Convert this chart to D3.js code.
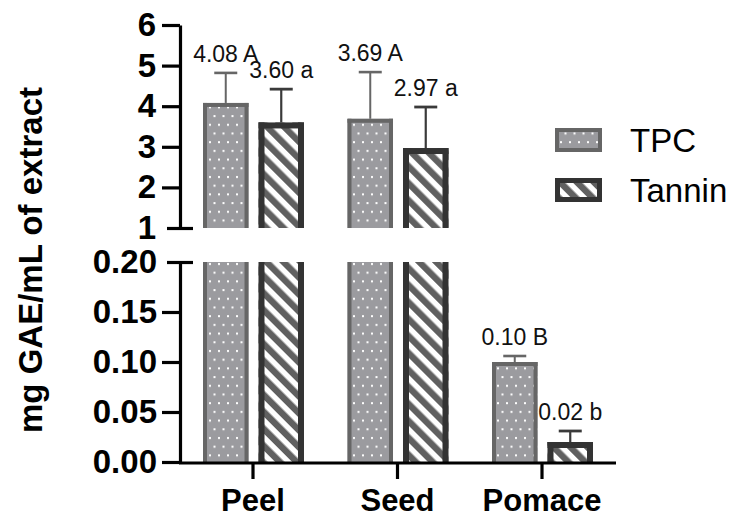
<!DOCTYPE html>
<html>
<head>
<meta charset="utf-8">
<script src="https://cdn.jsdelivr.net/npm/d3@7"></script>
<style>
  html, body { margin: 0; padding: 0; background: #fff; }
  svg { display: block; font-family: "Liberation Sans", Arial, sans-serif; }
</style>
</head>
<body>
<svg id="chart" width="732" height="518"></svg>
<script>
// Phenolic content per fraction (mean ± SD), with significance letters
const categories = ["Peel", "Seed", "Pomace"];
const series = ["TPC", "Tannin"];
const tpcMeans = [4.08, 3.69, 0.10];
const tpcSD = [0.74, 1.15, 0.006];
const tanninMeans = [3.60, 2.97, 0.02];
const tanninSD = [0.82, 1.01, 0.011];
const tpcLetters = ["A", "A", "B"];
const tanninLetters = ["a", "a", "b"];
const topTicks = [1, 2, 3, 4, 5, 6];
const bottomTicks = [0, 0.05, 0.10, 0.15, 0.20];

const svg = d3.select("#chart");

// Broken y axis: upper segment 1–6, lower segment 0–0.20
const yTop = d3.scaleLinear().domain([1, 6]).range([228, 25]);
const yBot = d3.scaleLinear().domain([0, 0.20]).range([462, 262]);
const x = d3.scaleBand().domain(categories).range([180.75, 614.25]).padding(0);
const xInner = d3.scaleBand().domain(series).range([0, 101]).paddingInner(0.18);

const style = {
  TPC: { fill: "url(#dots)", border: "#666666", bw: 4, err: "#666666", errW: 2 },
  Tannin: { fill: "url(#stripes)", border: "#333333", bw: 6, err: "#3a3a3a", errW: 2.2 }
};

// Fill patterns
const defs = svg.append("defs");
const dots = defs.append("pattern").attr("id", "dots")
  .attr("patternUnits", "userSpaceOnUse").attr("width", 9).attr("height", 17.4);
dots.append("rect").attr("width", 9).attr("height", 17.4).attr("fill", "#9b9b9f");
dots.append("rect").attr("x", 2).attr("y", 2).attr("width", 2).attr("height", 2).attr("fill", "#fff");
dots.append("rect").attr("x", 6.5).attr("y", 10.7).attr("width", 2).attr("height", 2).attr("fill", "#fff");

const stripes = defs.append("pattern").attr("id", "stripes")
  .attr("patternUnits", "userSpaceOnUse").attr("width", 12).attr("height", 12)
  .attr("patternTransform", "rotate(-45)");
stripes.append("rect").attr("width", 12).attr("height", 12).attr("fill", "#fff");
stripes.append("rect").attr("width", 6.5).attr("height", 12).attr("fill", "#606060");

// Rows of bar data
const rows = [];
categories.forEach((c, i) => {
  rows.push({ cat: c, s: "TPC", v: tpcMeans[i], sd: tpcSD[i], letter: tpcLetters[i] });
  rows.push({ cat: c, s: "Tannin", v: tanninMeans[i], sd: tanninSD[i], letter: tanninLetters[i] });
});

const barW = xInner.bandwidth();
const barX = d => x(d.cat) + x.bandwidth() / 2 - 50 + xInner(d.s);

const bars = svg.append("g");
function drawBar(g, x0, w, y0, y1, st, topBorder) {
  g.append("rect").attr("x", x0).attr("y", y1).attr("width", w).attr("height", y0 - y1).attr("fill", st.fill);
  g.append("rect").attr("x", x0).attr("y", y1).attr("width", st.bw).attr("height", y0 - y1).attr("fill", st.border);
  g.append("rect").attr("x", x0 + w - st.bw).attr("y", y1).attr("width", st.bw).attr("height", y0 - y1).attr("fill", st.border);
  if (topBorder) {
    g.append("rect").attr("x", x0).attr("y", y1).attr("width", w).attr("height", st.bw).attr("fill", st.border);
  }
}

rows.forEach(d => {
  const st = style[d.s];
  const x0 = barX(d);
  const onTop = d.v > yBot.domain()[1];
  // lower segment
  drawBar(bars, x0, barW, yBot(0), yBot(Math.min(d.v, 0.20)), st, !onTop);
  // upper segment
  if (onTop) drawBar(bars, x0, barW, yTop(1), yTop(d.v), st, true);

  // upper error bar
  const ys = onTop ? yTop : yBot;
  const cx = x0 + barW / 2;
  const yv = ys(d.v), ye = ys(d.v + d.sd);
  bars.append("line").attr("x1", cx).attr("x2", cx).attr("y1", yv).attr("y2", ye)
    .attr("stroke", st.err).attr("stroke-width", st.errW);
  bars.append("line").attr("x1", cx - 11.5).attr("x2", cx + 11.5).attr("y1", ye).attr("y2", ye)
    .attr("stroke", st.err).attr("stroke-width", st.errW + 0.6);

  // value label
  bars.append("text").attr("x", cx).attr("y", ye - 11)
    .attr("text-anchor", "middle").attr("font-size", 23).attr("fill", "#111")
    .text(d3.format(".2f")(d.v) + " " + d.letter);
});

// Axes
const axW = 3.2;
const gTop = svg.append("g").attr("transform", "translate(180,0)")
  .call(d3.axisLeft(yTop).tickValues(topTicks).tickSize(18).tickSizeOuter(0).tickPadding(6).tickFormat(d3.format("d")));
const gBot = svg.append("g").attr("transform", "translate(180,0)")
  .call(d3.axisLeft(yBot).tickValues(bottomTicks).tickSize(18).tickSizeOuter(0).tickPadding(5).tickFormat(d3.format(".2f")));
const gX = svg.append("g").attr("transform", "translate(0,463)")
  .call(d3.axisBottom(x).tickSize(16).tickSizeOuter(0).tickPadding(10));

[gTop, gBot, gX].forEach(g => {
  g.select(".domain").attr("stroke", "#000").attr("stroke-width", axW);
  g.selectAll(".tick line").attr("stroke", "#000").attr("stroke-width", axW);
  g.selectAll(".tick text").attr("fill", "#000").attr("font-weight", "bold")
    .attr("font-family", "'Liberation Sans', Arial, sans-serif");
});
gTop.selectAll(".tick text").attr("font-size", 33);
gBot.selectAll(".tick text").attr("font-size", 33);
gX.selectAll(".tick text").attr("font-size", 31);
gX.select(".domain").attr("d", "M179,0H616");

// Break caps at the ends of the two y segments
gTop.selectAll(".tick").filter(d => d === 1).select("line").attr("x1", 13).attr("x2", -13);
gBot.selectAll(".tick").filter(d => d === 0.20).select("line").attr("x1", 13).attr("x2", -13);

// Y axis title
svg.append("text")
  .attr("transform", "translate(42,260) rotate(-90)")
  .attr("text-anchor", "middle").attr("font-size", 33).attr("font-weight", "bold").attr("fill", "#000")
  .text("mg GAE/mL of extract");

// Legend
const legend = svg.append("g");
series.forEach((s, i) => {
  const st = style[s];
  const y0 = 128 + i * 50;
  const bw = s === "TPC" ? 4 : 5;
  legend.append("rect").attr("x", 555).attr("y", y0).attr("width", 47).attr("height", 24).attr("fill", st.border);
  legend.append("rect").attr("x", 555 + bw).attr("y", y0 + bw).attr("width", 47 - 2 * bw).attr("height", 24 - 2 * bw).attr("fill", st.fill);
  legend.append("text").attr("x", 630).attr("y", y0 + 24).attr("font-size", 33).attr("fill", "#000").text(s);
});
</script>
</body>
</html>
